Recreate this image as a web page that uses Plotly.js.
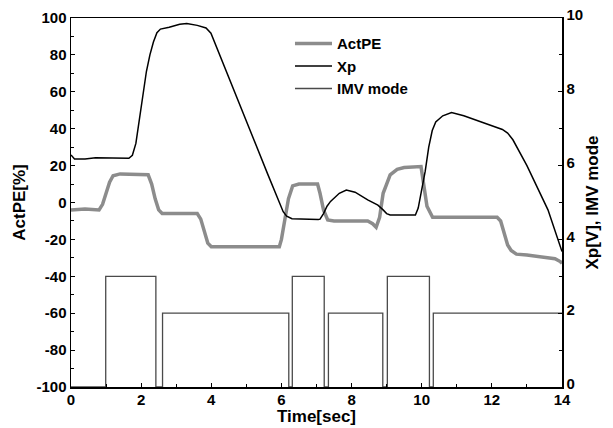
<!DOCTYPE html>
<html>
<head>
<meta charset="utf-8">
<script src="https://cdn.plot.ly/plotly-3.0.1.min.js"></script>
<style>html,body{margin:0;padding:0;background:#fff;}#chart{width:613px;height:428px;}</style>
</head>
<body>
<div id="chart"></div>
<script>
// ActPE [%] (left axis)
const actTime = [0, 0.4, 0.8, 0.9, 1.0, 1.1, 1.2, 1.4, 2.2, 2.3, 2.4, 2.5, 2.6, 3.0, 3.6, 3.7, 3.8, 3.9, 4.0, 5.0, 5.94, 6.0, 6.1, 6.2, 6.32, 6.5, 7.03, 7.1, 7.2, 7.32, 7.5, 8.0, 8.46, 8.6, 8.7, 8.8, 8.9, 9.0, 9.1, 9.3, 9.5, 9.98, 10.05, 10.15, 10.31, 11.0, 12.15, 12.25, 12.35, 12.45, 12.55, 12.7, 13.0, 13.5, 13.8, 13.95, 14];
const actPE   = [-4, -3.5, -4, -1, 5, 11, 14.5, 15.5, 15, 10, 2, -4, -6, -6, -6, -9, -16, -22, -24, -24, -24, -20, -10, 2, 9, 10, 10, 5, -4, -9.5, -10, -10, -10, -11.5, -13.4, -8, 5, 10, 15, 18, 19, 19.5, 10, -2, -8, -8, -8, -10, -17, -23, -26, -28, -28.5, -29.5, -30.5, -32, -33];

// Xp [V] (right axis)
const xpTime = [0, 0.1, 0.4, 0.7, 1.65, 1.75, 1.85, 1.95, 2.05, 2.15, 2.25, 2.35, 2.45, 2.55, 2.8, 3.1, 3.3, 3.6, 3.85, 3.99, 5.6, 6.05, 6.15, 6.3, 7.05, 7.1, 7.2, 7.3, 7.4, 7.5, 7.65, 7.85, 8.1, 8.46, 8.75, 8.9, 9.0, 9.1, 9.82, 9.9, 10.0, 10.1, 10.2, 10.3, 10.4, 10.6, 10.85, 11.2, 11.8, 12.3, 12.45, 12.6, 13.0, 13.6, 14];
const xpVolt = [6.29, 6.18, 6.18, 6.21, 6.20, 6.28, 6.60, 7.25, 8.00, 8.55, 9.00, 9.35, 9.60, 9.70, 9.75, 9.83, 9.85, 9.80, 9.73, 9.59, 5.79, 4.75, 4.63, 4.56, 4.54, 4.55, 4.70, 4.90, 5.03, 5.12, 5.25, 5.34, 5.28, 5.07, 4.93, 4.80, 4.70, 4.66, 4.66, 4.85, 5.30, 5.85, 6.50, 6.95, 7.18, 7.35, 7.44, 7.35, 7.15, 6.98, 6.88, 6.70, 6.00, 4.80, 3.67];

// IMV mode (right axis, step)
const imvTime = [0, 0.99, 2.42, 2.61, 6.21, 6.31, 7.22, 7.34, 8.89, 9.02, 10.22, 10.33, 14];
const imvMode = [0, 3, 0, 2, 0, 3, 0, 2, 0, 3, 0, 2, 2];

const xTicks = [0, 2, 4, 6, 8, 10, 12, 14];
const yLeftTicks = [-100, -80, -60, -40, -20, 0, 20, 40, 60, 80, 100];
const yRightTicks = [0, 2, 4, 6, 8, 10];

const FONT = 'Liberation Sans, Arial, sans-serif';
const tickFont = {family: FONT, size: 15, color: '#000', weight: 'bold'};
const titleFont = {family: FONT, size: 17, color: '#000', weight: 'bold'};

const traces = [
  {x: actTime, y: actPE, name: 'ActPE', type: 'scatter', mode: 'lines', line: {color: '#8c8c8c', width: 3.5}, yaxis: 'y'},
  {x: xpTime, y: xpVolt, name: 'Xp', type: 'scatter', mode: 'lines', line: {color: '#000', width: 1.5}, yaxis: 'y2'},
  {x: imvTime, y: imvMode, name: 'IMV mode', type: 'scatter', mode: 'lines', line: {color: '#4a4a4a', width: 1.3, shape: 'hv'}, yaxis: 'y2'}
];

const layout = {
  width: 613, height: 428,
  margin: {l: 71, r: 51, t: 18, b: 41},
  paper_bgcolor: '#fff', plot_bgcolor: '#fff',
  showlegend: true,
  legend: {x: 0.446, y: 0.975, xanchor: 'left', yanchor: 'top', bgcolor: 'rgba(0,0,0,0)', itemwidth: 37, font: {family: FONT, size: 15, color: '#000', weight: 'bold'}, tracegroupgap: 0},
  xaxis: {
    range: [0, 14], tickvals: xTicks, ticktext: xTicks.map(String),
    ticks: 'inside', ticklen: 4, tickwidth: 1, tickcolor: '#000',
    minor: {dtick: 1, ticks: 'inside', ticklen: 3, tickcolor: '#000'},
    showline: true, linecolor: '#000', linewidth: 1.5, mirror: true,
    showgrid: false, zeroline: false, tickfont: tickFont, ticklabelstandoff: -2,
    title: {text: 'Time[sec]', font: titleFont, standoff: 0}
  },
  yaxis: {
    range: [-100, 100], tickvals: yLeftTicks, ticktext: yLeftTicks.map(String),
    ticks: 'inside', ticklen: 4, tickwidth: 1, tickcolor: '#000',
    minor: {dtick: 10, ticks: 'inside', ticklen: 3, tickcolor: '#000'},
    showline: true, linecolor: '#000', linewidth: 1.5,
    showgrid: false, zeroline: false, tickfont: tickFont,
    title: {text: 'ActPE[%]', font: titleFont, standoff: 6}
  },
  yaxis2: {
    range: [0, 10], tickvals: yRightTicks, ticktext: yRightTicks.map(String),
    overlaying: 'y', side: 'right',
    ticks: 'inside', ticklen: 4, tickwidth: 1, tickcolor: '#000',
    minor: {dtick: 1, ticks: 'inside', ticklen: 3, tickcolor: '#000'},
    showline: true, linecolor: '#000', linewidth: 1.5,
    showgrid: false, zeroline: false, tickfont: tickFont, ticklabelshift: -3,
    title: {text: 'Xp[V], IMV mode', font: titleFont, standoff: 4}
  }
};

Plotly.newPlot('chart', traces, layout, {displayModeBar: false, staticPlot: true});
</script>
</body>
</html>
